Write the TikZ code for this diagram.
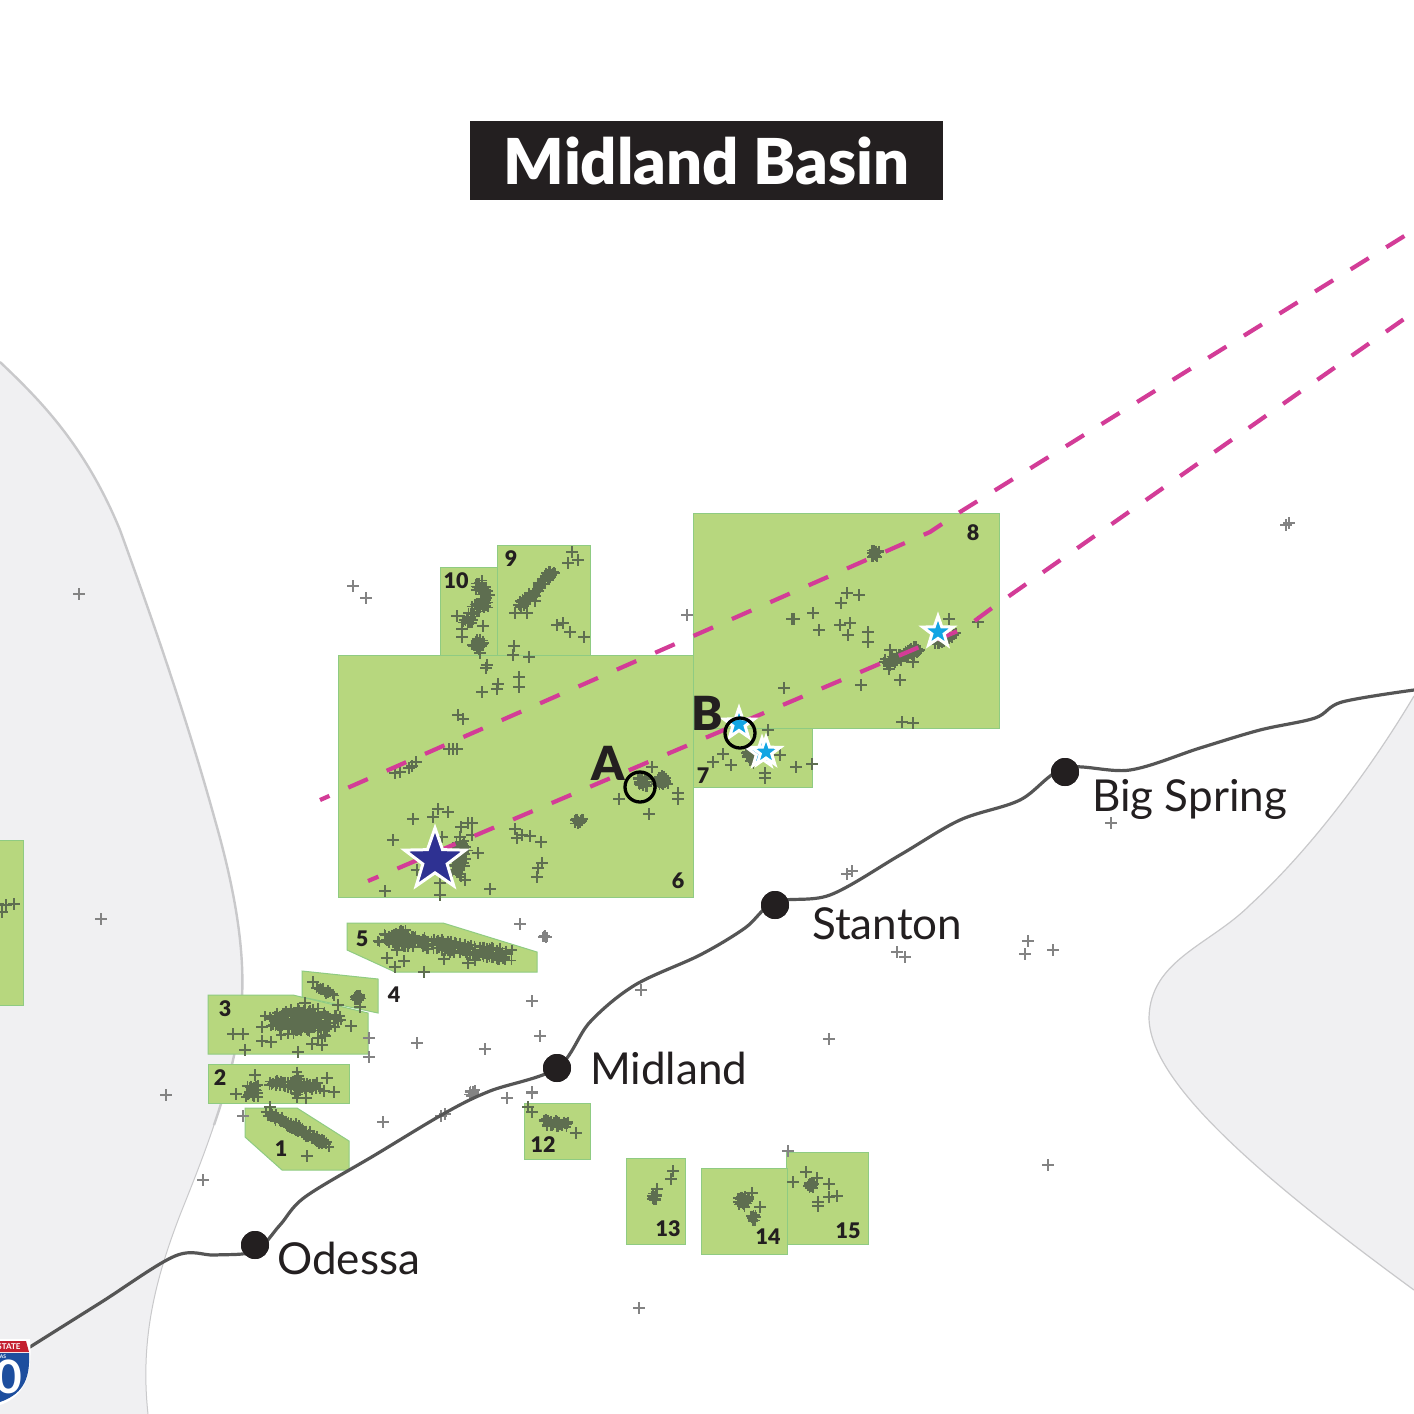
\documentclass[tikz,border=0pt]{standalone}
\usepackage{fontspec}
\setmainfont{Lato}
\newfontfamily\heavyfont{Lato Black}
\usetikzlibrary{shapes.geometric}
\definecolor{ink}{HTML}{231F20}
\definecolor{field}{HTML}{B7D77E}
\definecolor{fieldedge}{HTML}{8FCB82}
\definecolor{land}{HTML}{F0F0F2}
\definecolor{landedge}{HTML}{C9C9CB}
\definecolor{magentaline}{HTML}{D33C97}
\definecolor{roadgrey}{HTML}{555555}
\definecolor{wellgreen}{HTML}{5E6E50}
\definecolor{wellgrey}{HTML}{838383}
\definecolor{navy}{HTML}{2E3192}
\definecolor{sky}{HTML}{12A5E3}
\definecolor{shieldred}{HTML}{C4202F}
\definecolor{shieldblue}{HTML}{1D4E9E}
\tikzset{
  fieldbox/.style={fill=field,draw=fieldedge,line width=1pt,line join=miter},
  wellmark/.style={draw=wellgreen,line width=1.8pt},
  wellout/.style={draw=wellgrey,line width=1.6pt},
  trend/.style={draw=magentaline,line width=4.2pt,dash pattern=on 21.3pt off 20.6pt},
  road/.style={draw=roadgrey,line width=3.2pt,line cap=round},
  citydot/.style={circle,fill=ink,minimum size=28pt,inner sep=0pt},
  citylabel/.style={text=ink,font=\fontsize{44}{44}\selectfont,anchor=base west,inner sep=0pt},
  numlabel/.style={text=ink,font=\heavyfont\fontsize{21.5}{21.5}\selectfont,inner sep=0pt},
  letterlabel/.style={text=ink,font=\heavyfont\fontsize{47}{47}\selectfont,inner sep=0pt},
  ring/.style={circle,draw=black,line width=3.3pt,minimum size=30pt,inner sep=0pt},
  starmark/.style={star,star points=5,star point ratio=2.5,draw=white,line width=3pt,inner sep=0pt,line join=miter},
  titlebox/.style={fill=ink,text=white,font=\heavyfont\fontsize{63.3}{63.3}\selectfont,minimum width=473pt,minimum height=79pt,inner sep=0pt}
}
\newcommand{\wells}[1]{\foreach \px/\py in {#1}{\draw[wellmark] (\px-6,\py) -- (\px+6,\py) (\px,\py-6) -- (\px,\py+6);}}
\newcommand{\wellsout}[1]{\foreach \px/\py in {#1}{\draw[wellout] (\px-6,\py) -- (\px+6,\py) (\px,\py-6) -- (\px,\py+6);}}
% cluster along a segment: x1,y1,x2,y2,count,spread,style
\newcommand{\wellrun}[7][wellmark]{\foreach \ii in {1,...,#6}{%
  \pgfmathsetmacro{\tt}{rnd}\pgfmathsetmacro{\ox}{rand*#7}\pgfmathsetmacro{\oy}{rand*#7}%
  \pgfmathsetmacro{\px}{#2+(#4-#2)*\tt+\ox}\pgfmathsetmacro{\py}{#3+(#5-#3)*\tt+\oy}%
  \draw[#1] (\px-5,\py) -- (\px+5,\py) (\px,\py-5) -- (\px,\py+5);}}
\begin{document}
\begin{tikzpicture}[x=1pt,y=-1pt]
\pgfmathsetseed{4217}
\clip (0,0) rectangle (1414,1414);
\fill[white] (0,0) rectangle (1414,1414);
% land areas
\fill[land] (0,362) .. controls (40,400) and (85,445) .. (120,530) .. controls (160,640) and (190,730) .. (215,820)
  .. controls (235,890) and (248,960) .. (240,1020) .. controls (232,1090) and (205,1150) .. (180,1215)
  .. controls (155,1280) and (140,1340) .. (148,1414) -- (0,1414) -- cycle;
\draw[landedge,line width=2.4pt] (0,362) .. controls (40,400) and (85,445) .. (120,530) .. controls (160,640) and (190,730) .. (215,820)
  .. controls (235,890) and (248,960) .. (240,1020) .. controls (236,1055) and (226,1090) .. (214,1125);
\draw[landedge,line width=1pt] (214,1125) .. controls (204,1155) and (192,1185) .. (180,1215) .. controls (155,1280) and (140,1340) .. (148,1414);
\fill[land] (1414,696) .. controls (1370,770) and (1310,850) .. (1250,905) .. controls (1210,945) and (1150,960) .. (1149,1018)
  .. controls (1150,1080) and (1250,1170) .. (1414,1290) -- cycle;
\draw[landedge,line width=1.2pt] (1414,696) .. controls (1370,770) and (1310,850) .. (1250,905) .. controls (1210,945) and (1150,960) .. (1149,1018)
  .. controls (1150,1080) and (1250,1170) .. (1414,1290);
% fields
\draw[fieldbox] (-5,840) rectangle (23,1005);
\draw[fieldbox] (440,567) rectangle (497,655);
\draw[fieldbox] (497,545) rectangle (590,655);
\draw[fieldbox] (338,655) rectangle (693,897);
\draw[fieldbox] (693,728) rectangle (812,787);
\draw[fieldbox] (693,513) rectangle (999,728);
\draw[fieldbox] (347,923) -- (443,923) -- (537,952) -- (537,972) -- (395,972) -- (347,950) -- cycle;
\draw[fieldbox] (208,995) -- (293,995) -- (368,1013) -- (368,1054) -- (208,1054) -- cycle;
\draw[fieldbox] (302,971) -- (378,979) -- (378,1013) -- (302,997) -- cycle;
\draw[fieldbox] (208,1064) rectangle (349,1103);
\draw[fieldbox] (245,1108) -- (297,1108) -- (349,1141) -- (349,1170) -- (282,1170) -- (245,1137) -- cycle;
\draw[fieldbox] (524,1103) rectangle (590,1159);
\draw[fieldbox] (626,1158) rectangle (685,1244);
\draw[fieldbox] (786,1152) rectangle (868,1244);
\draw[fieldbox] (701,1168) rectangle (787,1254);
% scattered wells
\wellsout{353/586,366/598,687/615,79/594,101/919,166/1095,203/1180,1111/823,852/871,847/874,1028/941,1025/954,1053/950,897/952,905/957,641/990,829/1039,1048/1165,639/1308,1289/523,1286/525}
\wellsout{520/924,532/1001,540/1036,417/1043,485/1049,369/1038,369/1057,383/1122,243/1116,445/1114,441/1116,507/1098,532/1092,532/1093,788/1151}
\wells{457/616,483/626,462/637,462/629,572/552,578/560,568/563,515/613,527/613,535/601,557/625,563/623,570/632,584/637,514/646,513/655,529/657,480/653}
\wells{487/665,486/668,498/684,497/689,519/677,519/687,482/692,458/715,463/719,449/749,453/749,457/749,416/762,412/766,409/768,400/772,395/773}
\wells{652/767,678/793,678/799,619/799,649/814,438/809,448/812,433/817,413/819,393/840,472/823,468/823,461/827,460/837,472/835,442/837,478/853,465/880,440/883,440/895,417/870,385/891,490/889}
\wells{515/829,522/835,517/838,530/836,541/842,542/863,538/868,537/877}
\wells{847/593,859/595,841/603,813/613,792/619,794/619,819/630,840/625,850/623,848/635,868/632,868/642,784/688,861/685,900/680,913/662,890/650,889/669,949/619,978/622,902/722,913/723}
\wells{768/730,723/754,713/762,731/765,780/755,796/767,812/764,765/773,765/778}
\wells{403/932,397/950,387/958,404/961,395/967,424/972,444/959,468/963,475/960,528/1107,532/1112}
\wells{313/982,338/1005,360/1007,351/1026,335/1017,262/1027,233/1034,243/1034,245/1050,262/1041,271/1042,298/1052,312/1044,322/1045,325/1036,318/1038,305/1003}
\wells{255/1075,236/1094,317/1083,327/1078,324/1091,334/1092,306/1098,270/1107,307/1156}
\wells{576/1133,673/1171,671/1179,657/1189,752/1193,760/1207,793/1182,806/1172,817/1178,829/1184,829/1197,837/1196,818/1202,818/1206}
\wells{6/905,-2/904,14/904,2/912}
% dense clusters
\wellrun{478}{583}{484}{592}{24}{5}
\wellrun{473}{610}{490}{598}{30}{5}
\wellrun{462}{627}{476}{612}{14}{4}
\wellrun{474}{643}{482}{645}{24}{5}
\wellrun{518}{608}{552}{573}{70}{3.5}
\wellrun{642}{782}{644}{782}{30}{5}
\wellrun{660}{780}{665}{780}{30}{5}
\wellrun{578}{820}{580}{820}{20}{4}
\wellrun{462}{845}{456}{872}{60}{6}
\wellrun{875}{553}{875}{553}{24}{4}
\wellrun{887}{663}{920}{648}{70}{4}
\wellrun{935}{645}{955}{634}{24}{3}
\wellrun{747}{753}{755}{762}{20}{3}
\wellrun{383}{937}{507}{955}{220}{6}
\wellrun{400}{930}{405}{938}{14}{4}
\wellrun{318}{988}{335}{995}{18}{2}
\wellrun{357}{997}{358}{998}{24}{3}
\wellrun{272}{1022}{336}{1020}{130}{9}
\wellrun{285}{1022}{315}{1022}{90}{14}
\wellrun{252}{1091}{252}{1091}{30}{6}
\wellrun{270}{1083}{318}{1087}{70}{3.5}
\wellrun{295}{1075}{298}{1095}{30}{4}
\wellrun{268}{1113}{328}{1145}{110}{3.5}
\wellrun[wellout]{472}{1093}{472}{1093}{10}{3}
\wellrun{544}{1122}{567}{1125}{40}{3.5}
\wellrun{653}{1198}{655}{1195}{14}{2.5}
\wellrun{743}{1203}{745}{1200}{36}{6}
\wellrun{754}{1218}{754}{1218}{10}{3}
\wellrun{811}{1185}{811}{1185}{18}{3}
\wellrun[wellout]{543}{936}{547}{936}{10}{2}
% trend lines
\draw[trend,dash phase=11pt] (320,800) -- (930,532) -- (960,512) -- (1414,230);
\draw[trend,dash phase=10pt] (368,881) -- (917,648) -- (965,628) -- (992,608) -- (1414,312);
% stars
\node[starmark,fill=navy,minimum size=64pt] (bigstar) at (435,860) {};
\node[starmark,fill=sky,minimum size=32pt] (starone) at (938,632) {};
\node[starmark,fill=sky,minimum size=30pt] (startwoa) at (762,753) {};
\node[starmark,fill=sky,minimum size=30pt] (startwob) at (766,752) {};
\node[starmark,fill=sky,minimum size=32pt] (starthree) at (739,724) {};
% rings
\node[ring] (ringa) at (640,787) {};
\node[ring] (ringb) at (740,733) {};
\node[letterlabel] (lettera) at (608,763) {A};
\node[letterlabel] (letterb) at (707,713) {B};
% road
\node[citydot] (odessa) at (255,1245) {};
\node[citydot] (midland) at (557,1068) {};
\node[citydot] (stanton) at (775,905) {};
\node[citydot] (bigspring) at (1065,772) {};
\draw[road] plot[smooth,tension=.55] coordinates {(22,1352) (100,1303) (175,1256) (215,1255) (255,1251) (280,1225) (305,1197) (375,1155) (445,1113) (490,1091) (557,1068) (590,1022) (635,985) (700,955) (745,928) (775,902) (830,895) (900,855) (960,820) (1020,800) (1065,768) (1130,770) (1200,748) (1260,730) (1315,718) (1342,702) (1414,690)};
\node[citydot] at (odessa) {};
\node[citydot] at (midland) {};
\node[citydot] at (stanton) {};
\node[citydot] at (bigspring) {};
% shield
\fill[white] (-8,1339) -- (30,1339) .. controls (32,1365) and (30,1395) .. (0,1405) -- (-8,1405) -- cycle;
\fill[shieldblue] (-8,1353) -- (29,1353) .. controls (30,1375) and (26,1393) .. (0,1402) -- (-8,1402) -- cycle;
\fill[shieldred] (-8,1341) -- (26,1341) -- (29,1352) -- (-8,1352) -- cycle;
\node[text=white,font=\bfseries\fontsize{8}{8}\selectfont,inner sep=0pt] (shieldtop) at (9,1347) {STATE};
\node[text=white,font=\bfseries\fontsize{5}{5}\selectfont,inner sep=0pt] (shieldsmall) at (3,1357) {AS};
\node[text=white,font=\bfseries\fontsize{46}{46}\selectfont,inner sep=0pt] (shieldnum) at (9,1377) {0};
% labels
\node[citylabel] (lodessa) at (277,1274) {Odessa};
\node[citylabel] (lmidland) at (590,1084) {Midland};
\node[citylabel] (lstanton) at (812,939) {Stanton};
\node[citylabel] (lbig) at (1092,811) {Big Spring};
\node[numlabel] (n1) at (281,1149) {1};
\node[numlabel] (n2) at (220,1078) {2};
\node[numlabel] (n3) at (225,1009) {3};
\node[numlabel] (n4) at (394,995) {4};
\node[numlabel] (n5) at (362,939) {5};
\node[numlabel] (n6) at (678,881) {6};
\node[numlabel] (n7) at (703,776) {7};
\node[numlabel] (n8) at (973,533) {8};
\node[numlabel] (n9) at (511,559) {9};
\node[numlabel] (n10) at (456,581) {10};
\node[numlabel] (n12) at (543,1145) {12};
\node[numlabel] (n13) at (668,1229) {13};
\node[numlabel] (n14) at (768,1237) {14};
\node[numlabel] (n15) at (848,1231) {15};
\node[titlebox] (title) at (706.5,160.5) {Midland Basin};
\end{tikzpicture}
\end{document}
